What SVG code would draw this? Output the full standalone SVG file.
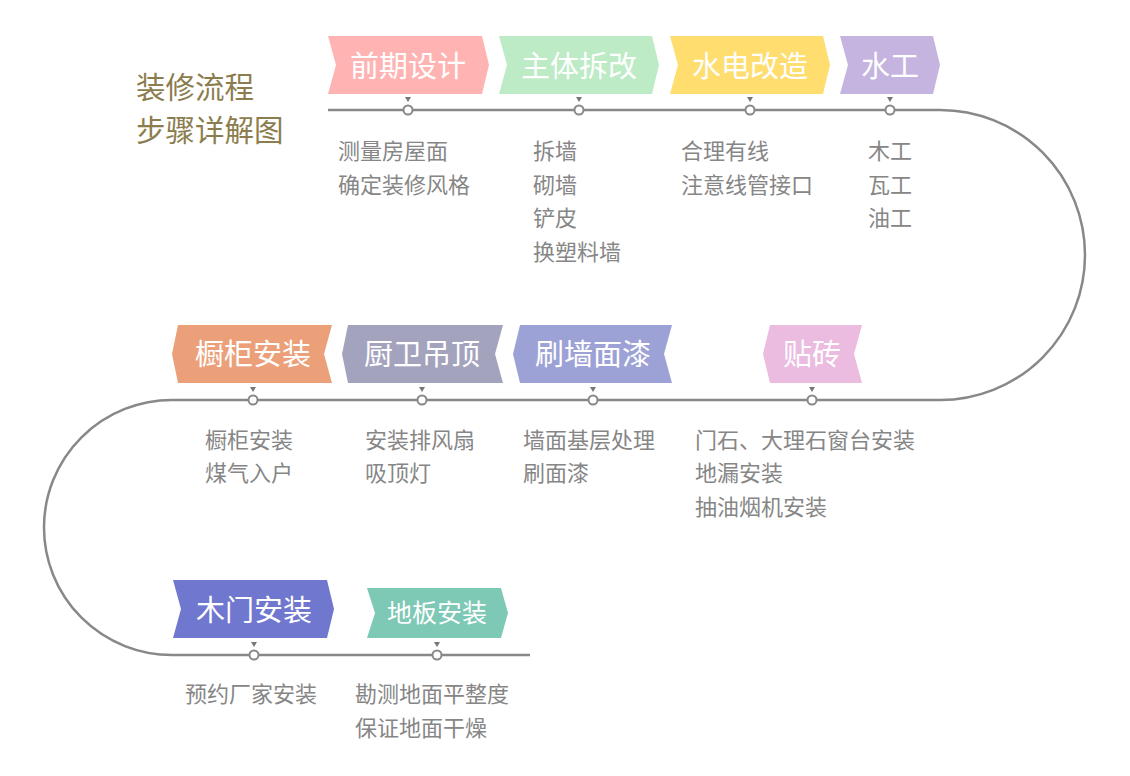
<svg xmlns="http://www.w3.org/2000/svg" width="1130" height="776" viewBox="0 0 1130 776">
  <style>
    .bt { font-family: "Noto Sans CJK SC", sans-serif; font-size: 29px; fill: #ffffff; text-anchor: middle; }
    .st { font-family: "Noto Sans CJK SC", sans-serif; font-size: 22px; fill: #868686; }
    .tt { font-family: "Noto Sans CJK SC", sans-serif; font-size: 29.5px; fill: #8b7d4e; }
    .dot { fill: #ffffff; stroke: #888888; stroke-width: 2; }
    .tri { fill: #777777; }
    .track { fill: none; stroke: #888888; stroke-width: 2.5; }
  </style>
  <rect width="1130" height="776" fill="#ffffff"/>

  <g id="title">
    <text class="tt" x="136" y="98">装修流程</text>
    <text class="tt" x="136" y="141">步骤详解图</text>
  </g>

  <g id="connectors">
    <path class="track" d="M 328 110 H 940 A 145 145 0 0 1 940 400 H 172 A 128 127.5 0 0 0 172 655 H 530"/>
    <g id="dots">
      <circle class="dot" cx="408" cy="110" r="4.5"/>
      <circle class="dot" cx="579" cy="110" r="4.5"/>
      <circle class="dot" cx="750" cy="110" r="4.5"/>
      <circle class="dot" cx="890" cy="110" r="4.5"/>
      <circle class="dot" cx="253" cy="400" r="4.5"/>
      <circle class="dot" cx="422" cy="400" r="4.5"/>
      <circle class="dot" cx="593" cy="400" r="4.5"/>
      <circle class="dot" cx="812" cy="400" r="4.5"/>
      <circle class="dot" cx="254" cy="655" r="4.5"/>
      <circle class="dot" cx="437" cy="655" r="4.5"/>
    </g>
    <g id="ticks">
      <path class="tri" d="M 405 97 h 6 l -3 5 z"/>
      <path class="tri" d="M 576 97 h 6 l -3 5 z"/>
      <path class="tri" d="M 747 97 h 6 l -3 5 z"/>
      <path class="tri" d="M 887 97 h 6 l -3 5 z"/>
      <path class="tri" d="M 250 387 h 6 l -3 5 z"/>
      <path class="tri" d="M 419 387 h 6 l -3 5 z"/>
      <path class="tri" d="M 590 387 h 6 l -3 5 z"/>
      <path class="tri" d="M 809 387 h 6 l -3 5 z"/>
      <path class="tri" d="M 251 642 h 6 l -3 5 z"/>
      <path class="tri" d="M 434 642 h 6 l -3 5 z"/>
    </g>
  </g>

  <g id="step1">
    <polygon points="328,36 482,36 489,65 482,94 328,94 336,65" fill="#ffb3b3"/>
    <text class="bt" x="408" y="77">前期设计</text>
    <text class="st" x="338" y="159">测量房屋面</text>
    <text class="st" x="338" y="193">确定装修风格</text>
  </g>
  <g id="step2">
    <polygon points="499,36 652,36 659,65 652,94 499,94 507,65" fill="#bdebc6"/>
    <text class="bt" x="579" y="77">主体拆改</text>
    <text class="st" x="533" y="159">拆墙</text>
    <text class="st" x="533" y="193">砌墙</text>
    <text class="st" x="533" y="226">铲皮</text>
    <text class="st" x="533" y="260">换塑料墙</text>
  </g>
  <g id="step3">
    <polygon points="670,36 823,36 830,65 823,94 670,94 678,65" fill="#ffdd6e"/>
    <text class="bt" x="750" y="77">水电改造</text>
    <text class="st" x="681" y="159">合理有线</text>
    <text class="st" x="681" y="193">注意线管接口</text>
  </g>
  <g id="step4">
    <polygon points="840,36 933,36 940,65 933,94 840,94 848,65" fill="#c5b3e0"/>
    <text class="bt" x="890" y="77">水工</text>
    <text class="st" x="868" y="159">木工</text>
    <text class="st" x="868" y="193">瓦工</text>
    <text class="st" x="868" y="226">油工</text>
  </g>

  <g id="step5">
    <polygon points="763,354 770,325 862,325 854,354 862,383 770,383" fill="#ebbbe0"/>
    <text class="bt" x="812" y="365">贴砖</text>
    <text class="st" x="695" y="448">门石、大理石窗台安装</text>
    <text class="st" x="695" y="481">地漏安装</text>
    <text class="st" x="695" y="515">抽油烟机安装</text>
  </g>
  <g id="step6">
    <polygon points="513,354 520,325 672,325 664,354 672,383 520,383" fill="#9da2d6"/>
    <text class="bt" x="593" y="365">刷墙面漆</text>
    <text class="st" x="523" y="448">墙面基层处理</text>
    <text class="st" x="523" y="481">刷面漆</text>
  </g>
  <g id="step7">
    <polygon points="342,354 348,325 503,325 495,354 503,383 348,383" fill="#a3a3bd"/>
    <text class="bt" x="422" y="365">厨卫吊顶</text>
    <text class="st" x="365" y="448">安装排风扇</text>
    <text class="st" x="365" y="481">吸顶灯</text>
  </g>
  <g id="step8">
    <polygon points="172,354 178,325 332,325 324,354 332,383 178,383" fill="#eba07a"/>
    <text class="bt" x="253" y="365">橱柜安装</text>
    <text class="st" x="205" y="448">橱柜安装</text>
    <text class="st" x="205" y="481">煤气入户</text>
  </g>

  <g id="step9">
    <polygon points="173,580 327,580 334,609 327,638 173,638 181,609" fill="#7077cf"/>
    <text class="bt" x="254" y="621">木门安装</text>
    <text class="st" x="185" y="702">预约厂家安装</text>
  </g>
  <g id="step10">
    <polygon points="367,588 501,588 508,613 501,638 367,638 375,613" fill="#7ec8b6"/>
    <text class="bt" x="437" y="622" style="font-size:25px">地板安装</text>
    <text class="st" x="355" y="702">勘测地面平整度</text>
    <text class="st" x="355" y="736">保证地面干燥</text>
  </g>
</svg>
